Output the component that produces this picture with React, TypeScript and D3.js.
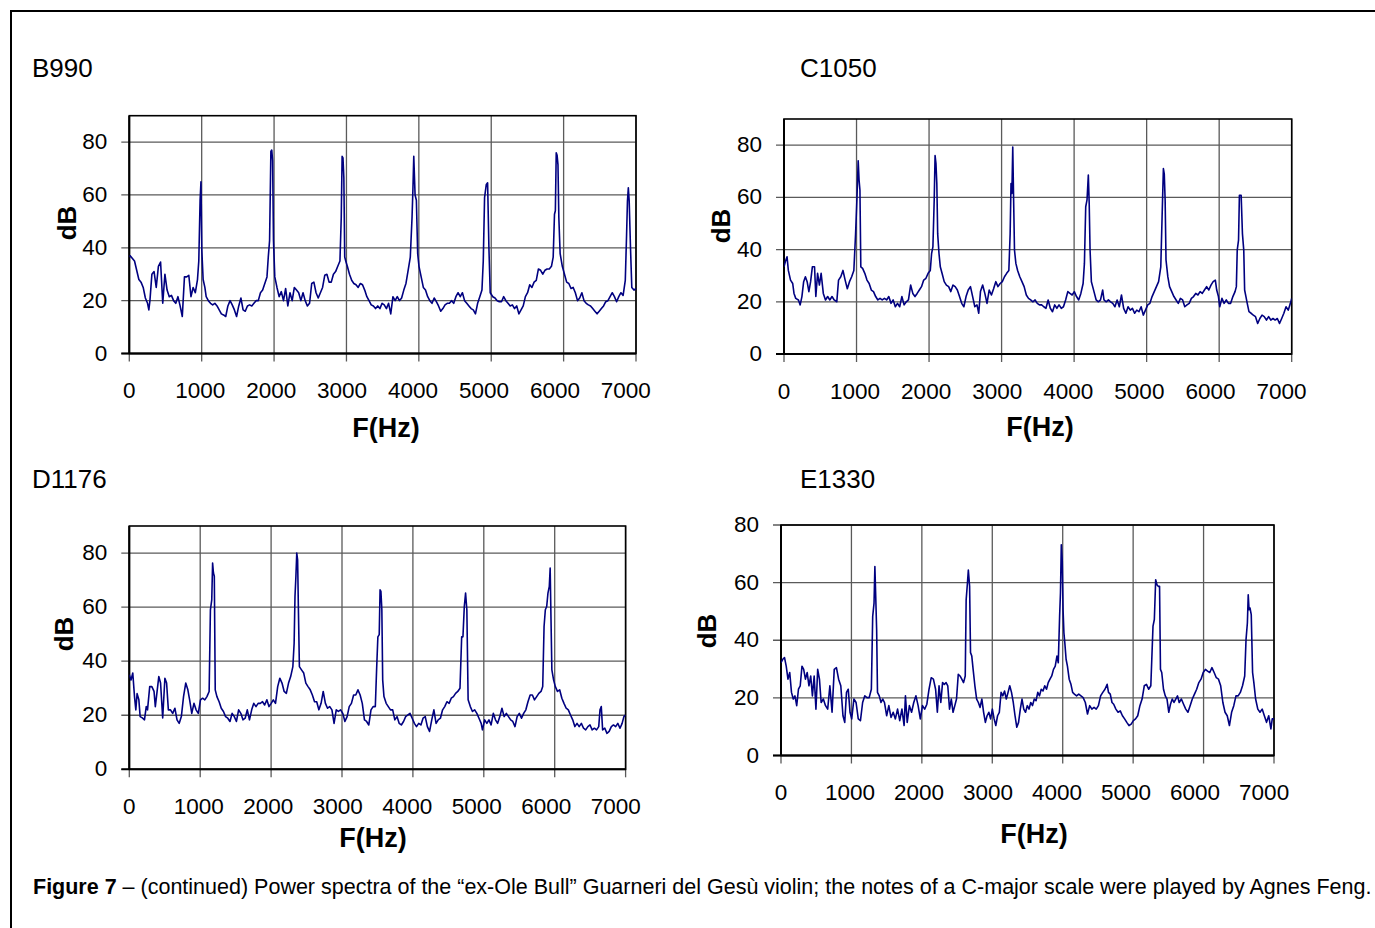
import React from "react";
import * as d3 from "d3";

type Pt = [number, number];

// ---- data (frequency Hz, level dB) ----
const B990: Pt[] = [[0,36.5],[12,37],[72,35],[132,28],[162,27],[192,25],[222,21],[252,19],[270,16.5],[285,20],[312,30],[342,31],[372,25],[402,33],[432,34.6],[462,19],[492,30],[522,24],[552,21.5],[582,22],[612,20],[642,19],[672,21.5],[702,18],[732,14],[762,29],[792,29],[822,29.6],[852,21.5],[882,25],[912,23],[942,28],[960,35],[978,58],[990,65],[1002,39],[1020,28],[1044,25],[1062,21.5],[1092,20],[1122,19],[1152,18.4],[1182,19],[1212,18],[1242,16.5],[1272,15],[1302,14.6],[1332,14],[1362,18],[1392,20],[1422,18.4],[1452,16.5],[1482,14],[1512,18],[1542,21],[1572,16.5],[1602,16],[1632,18],[1662,18.4],[1692,18],[1722,19],[1752,20],[1782,20],[1812,23],[1842,24],[1872,26.5],[1902,29],[1920,36.5],[1938,42.7],[1956,76.5],[1968,77],[1980,73],[1992,42.7],[2010,29],[2040,25],[2070,21.5],[2100,23.4],[2130,20],[2160,24.6],[2190,18],[2220,23],[2250,20],[2280,25],[2310,24],[2340,23],[2370,20],[2400,23],[2430,20],[2460,18],[2490,19],[2520,26.5],[2550,27],[2580,23],[2610,21],[2640,23],[2670,25],[2700,29.6],[2730,30],[2760,27],[2790,27],[2820,30],[2850,31],[2880,33],[2910,35],[2928,51.5],[2940,74.6],[2952,74],[2964,66.5],[2976,36.5],[2994,34.6],[3012,33],[3042,30],[3072,27.7],[3102,26.5],[3132,26],[3162,25],[3192,26.5],[3222,26],[3252,24],[3282,21.5],[3312,20],[3342,18.4],[3372,18],[3402,17],[3432,18],[3462,17],[3492,19],[3522,18.4],[3552,17],[3582,19],[3612,15],[3642,21.5],[3672,20],[3702,21.5],[3732,20],[3762,21],[3792,24],[3822,26.5],[3852,31.5],[3882,36.5],[3906,51.5],[3918,62],[3930,74.6],[3948,60],[3966,58],[3984,37.8],[4002,33],[4032,29],[4062,25],[4092,24],[4122,21.5],[4152,20],[4182,19],[4212,21],[4242,19.6],[4272,18],[4302,16],[4332,17],[4362,18.4],[4392,19],[4422,19],[4452,20],[4482,19],[4512,21.5],[4542,23],[4572,21.5],[4602,23],[4632,20],[4662,19],[4692,18],[4722,17],[4752,16.5],[4782,15],[4812,19],[4842,21.5],[4872,24],[4890,35],[4908,59],[4932,64],[4950,64.6],[4968,40],[4986,23],[5022,21.5],[5052,21],[5082,20],[5112,19.6],[5142,19.6],[5172,21.5],[5202,20],[5232,19],[5262,18],[5292,18.4],[5322,17],[5352,18],[5382,15],[5412,16.5],[5442,18],[5472,21.5],[5502,23],[5532,26],[5562,25],[5592,27],[5622,27.7],[5652,32],[5682,31.5],[5712,30],[5742,31.5],[5772,32],[5802,32],[5832,33],[5856,36.5],[5874,52.7],[5886,54],[5898,76],[5910,75],[5922,71.5],[5934,51.5],[5952,37.8],[5982,33],[6012,30],[6042,27],[6072,26.5],[6102,24.6],[6132,25],[6162,23],[6192,20],[6222,21],[6252,23],[6282,20],[6312,19],[6342,18.4],[6372,18],[6402,17],[6432,16],[6462,15],[6492,16],[6522,17],[6552,18],[6582,19.6],[6612,20],[6642,21.5],[6672,23],[6702,21.5],[6732,19.6],[6762,21.5],[6792,23],[6822,22],[6852,27.7],[6870,45],[6882,57.7],[6894,62.7],[6906,57.7],[6924,40],[6942,25],[6972,24],[7000,24.6]];

const C1050: Pt[] = [[0,33.4],[18,35.3],[42,37.2],[60,32],[90,28.3],[120,27],[138,23.2],[162,21.3],[199,20.7],[223,18.8],[247,22],[271,27.7],[295,29.6],[319,27.7],[343,23.9],[367,27.7],[391,33.4],[421,33.4],[439,22],[463,30.9],[488,26.4],[512,30.9],[542,23.2],[572,20.7],[602,22],[632,20.7],[662,22],[692,20.7],[728,20],[752,28.3],[783,29.6],[813,32],[843,28.3],[873,25],[903,27.7],[933,29.6],[963,32],[987,46],[1005,59],[1023,74],[1035,66.6],[1047,62.8],[1059,33.4],[1084,32.8],[1114,30.9],[1144,28.3],[1174,27],[1204,24.5],[1234,23.9],[1264,22],[1294,20.7],[1324,21.3],[1354,20.7],[1385,21.3],[1415,20.7],[1445,22],[1475,19.4],[1505,20.7],[1535,18.1],[1565,19.4],[1595,18.1],[1625,22],[1656,18.8],[1686,20],[1716,20.7],[1746,26.4],[1776,23.2],[1806,22],[1836,23.2],[1866,24.5],[1896,25.8],[1926,28.3],[1957,29],[1987,30.9],[2017,32],[2035,38.5],[2053,41],[2071,59],[2083,76],[2095,73],[2107,65.3],[2119,46],[2137,38.5],[2155,33.4],[2179,30.9],[2209,27.7],[2239,26.4],[2270,25.8],[2300,23.9],[2330,26.4],[2360,25.8],[2390,24.5],[2420,22],[2450,19.4],[2480,18.1],[2510,22],[2540,24.5],[2571,25.8],[2601,22],[2631,18.1],[2661,18.8],[2685,15.6],[2709,23.9],[2739,26.4],[2769,23.2],[2799,19.4],[2829,24.5],[2860,22.6],[2890,25],[2920,27.7],[2950,25.8],[2980,27],[3010,27.7],[3040,29.6],[3070,30.9],[3100,32],[3118,46],[3130,65.3],[3142,61.5],[3154,79.3],[3166,59],[3178,39.8],[3197,34.7],[3221,32],[3251,29.6],[3281,27.7],[3311,25.8],[3341,22.6],[3371,21.3],[3401,20.7],[3431,20],[3462,20.7],[3492,19.4],[3522,18.8],[3552,18.8],[3582,18.1],[3612,17.5],[3642,20.7],[3672,17.5],[3702,16.2],[3732,18.8],[3762,17.5],[3792,18.8],[3823,17.5],[3853,18.1],[3883,20.7],[3913,23.9],[3943,23.2],[3973,22.6],[4003,23.9],[4033,22],[4063,20.7],[4093,23.2],[4124,27],[4142,34.7],[4160,56.4],[4178,59],[4196,68.5],[4208,57.7],[4220,39.8],[4238,27.7],[4256,25.8],[4274,23.9],[4304,20.7],[4334,20],[4364,20.7],[4394,24.5],[4412,20.7],[4443,20],[4473,20.7],[4503,20],[4533,19.4],[4563,18.1],[4593,20.7],[4623,18.1],[4653,22.6],[4683,17.5],[4714,15.6],[4744,18.1],[4774,16.8],[4804,17.5],[4834,15.6],[4864,16.8],[4894,16.2],[4924,18.1],[4954,14.9],[4984,16.8],[5015,18.8],[5045,19.4],[5075,22],[5105,23.9],[5135,25.8],[5165,27.7],[5195,33.4],[5213,52.5],[5231,71],[5243,69],[5255,59],[5267,36],[5292,29.6],[5316,25.8],[5346,23.9],[5376,22],[5406,20.7],[5436,19.4],[5466,21.3],[5496,20.7],[5526,18.1],[5556,18.8],[5587,19.4],[5617,21.3],[5647,22],[5677,23.2],[5707,22.6],[5737,23.9],[5767,23.2],[5797,24.5],[5827,25.8],[5857,24.5],[5887,26.4],[5917,27.7],[5947,28.3],[5966,24.5],[5990,22],[6008,18.1],[6038,21.3],[6068,19.4],[6098,20.7],[6128,19.4],[6158,19.4],[6189,22],[6219,23.9],[6237,25.8],[6249,39.8],[6267,43.6],[6279,60.8],[6303,60.8],[6321,46],[6339,39.8],[6351,24.5],[6369,22],[6387,19.4],[6411,16.2],[6441,15.6],[6471,14.9],[6501,14.3],[6531,11.7],[6561,13.6],[6591,14.9],[6621,14.3],[6652,13],[6682,14.3],[6712,13],[6742,13.6],[6772,13],[6802,13.6],[6832,11.7],[6862,13.6],[6892,15.6],[6922,18.1],[6952,16.8],[6982,19.4],[7000,21.3]];

const D1176: Pt[] = [[0,35],[24,33],[49,35.6],[73,27],[92,22],[110,28],[135,25.7],[153,19.5],[184,19],[214,18.3],[239,23.2],[257,22],[288,30.6],[318,30.6],[349,28.8],[367,23.2],[392,28.8],[416,34.3],[441,31.9],[471,19],[502,33.7],[526,31.9],[551,22],[581,22],[612,20.7],[643,22.6],[673,18.3],[704,17],[734,19.5],[765,26.9],[796,31.9],[826,29.4],[851,25.7],[881,20.7],[912,24.4],[942,22],[973,20.7],[1004,25.7],[1034,26.3],[1065,25.7],[1095,26.9],[1126,28.8],[1144,59],[1163,62.7],[1175,76.3],[1187,72.6],[1199,71.4],[1212,29.4],[1236,26.9],[1267,25],[1297,22.6],[1328,21.4],[1358,19.5],[1389,18.9],[1420,17.7],[1450,20.7],[1481,19.5],[1511,17.7],[1542,22],[1573,20.7],[1603,18.3],[1634,18.9],[1664,22],[1695,18.3],[1726,22],[1756,24.4],[1787,23.2],[1817,24.4],[1848,24.4],[1879,25],[1909,23.8],[1940,25.7],[1970,23.2],[2001,24.4],[2031,25.7],[2062,24.4],[2093,30.6],[2123,33.7],[2154,31.9],[2184,28.8],[2215,28.1],[2246,31.9],[2276,34.3],[2307,38],[2325,46.7],[2337,64],[2350,71.4],[2362,80],[2374,77.5],[2386,57.8],[2399,38],[2429,36.8],[2460,35.6],[2490,31.9],[2521,30.6],[2552,29.4],[2582,27.5],[2613,25],[2643,25],[2674,22],[2705,24.4],[2735,28.8],[2766,24.4],[2796,22.6],[2827,23.2],[2858,22],[2888,17],[2919,22],[2949,21.4],[2980,22],[3011,20.7],[3041,17.7],[3072,19.5],[3102,23.2],[3133,24.4],[3164,27.5],[3194,27.5],[3225,29.4],[3256,27.5],[3286,24.4],[3317,18.3],[3347,17.7],[3378,16.4],[3409,22],[3439,23.2],[3470,23.2],[3488,36.8],[3506,49],[3525,49.8],[3537,66.4],[3549,65.8],[3562,59],[3574,33],[3592,26.9],[3623,24.4],[3653,23.2],[3684,22],[3715,22],[3745,18.3],[3776,19.5],[3806,17],[3837,16.4],[3868,17.7],[3898,19.5],[3929,20.1],[3959,20.7],[3990,18.9],[4021,17],[4051,15.8],[4082,17],[4113,16.4],[4143,18.9],[4174,19.5],[4204,15.8],[4235,14],[4266,18.3],[4296,22],[4327,17],[4357,18.3],[4388,18.9],[4419,22],[4449,23.2],[4480,25],[4511,24.4],[4541,26.3],[4572,26.9],[4602,28.1],[4633,28.8],[4664,30],[4688,49],[4706,49],[4725,60.2],[4743,65.2],[4761,59],[4779,25.7],[4810,23.2],[4840,21.4],[4871,22],[4902,20.7],[4932,18.9],[4963,17],[4981,14.6],[5012,18.3],[5043,17],[5073,18.3],[5103,16.4],[5134,20.7],[5165,18.3],[5195,17],[5226,19.5],[5256,22.6],[5287,19.5],[5318,20.7],[5348,19.5],[5379,18.3],[5409,17.7],[5440,15.8],[5470,19.5],[5501,20.7],[5532,18.9],[5562,20.7],[5593,22],[5623,25],[5654,27.5],[5685,27.5],[5715,25.7],[5746,26.9],[5776,28.1],[5807,28.8],[5831,30.6],[5850,52.8],[5868,59],[5887,60.2],[5905,65.2],[5924,67.7],[5936,74.4],[5948,55.3],[5960,36.8],[5985,33],[6009,30.6],[6039,28.8],[6070,29.4],[6101,26.3],[6131,24.4],[6162,22.6],[6192,22],[6223,20.1],[6254,18.3],[6284,15.8],[6315,17],[6345,15.8],[6376,17],[6407,15.2],[6437,14.6],[6468,15.8],[6498,16.4],[6529,14.6],[6560,15.2],[6590,14.6],[6621,15.8],[6639,22],[6657,23.2],[6676,14.6],[6707,15.2],[6737,13.3],[6768,14],[6799,15.8],[6829,16.4],[6860,15.8],[6890,17],[6921,15.2],[6951,17],[6976,19.5],[7000,20.1]];

const E1330: Pt[] = [[0,32.2],[25,33.4],[50,34],[74,31],[99,26.5],[124,28.8],[149,21.9],[174,19.6],[198,20.7],[223,17.3],[248,23],[273,24.2],[298,31],[322,29.9],[347,26.5],[372,28.8],[397,24.2],[422,27.6],[446,20.7],[471,27.6],[496,16.1],[521,29.9],[546,26.5],[570,18.4],[601,19.6],[632,17.3],[663,16.1],[694,24.2],[725,15],[756,29.9],[787,30.5],[818,26.5],[849,24.2],[880,13.8],[905,11.5],[930,21.9],[955,23],[980,15],[1004,12.7],[1035,19.6],[1066,18.4],[1097,12.7],[1128,12.1],[1159,18.4],[1190,20.7],[1221,20.1],[1252,20.1],[1283,23],[1302,48.3],[1321,52.9],[1333,65.6],[1345,55.2],[1358,43.7],[1370,21.9],[1395,20.7],[1420,18.4],[1445,19.6],[1469,18.4],[1500,13.8],[1531,17.3],[1562,13.2],[1593,15],[1624,12.7],[1655,16.1],[1686,12.1],[1717,16.1],[1748,10.4],[1767,20.7],[1792,11.5],[1823,17.3],[1854,15],[1885,18.4],[1916,20.7],[1947,17.3],[1978,12.7],[2009,17.3],[2040,16.1],[2071,17.8],[2102,23],[2133,27],[2164,26.5],[2195,23],[2220,15],[2244,24.2],[2269,18.4],[2294,25.3],[2319,24.7],[2344,25.3],[2368,24.2],[2393,16.1],[2418,19.6],[2443,15],[2468,17.3],[2492,19.6],[2517,28.2],[2542,27.6],[2567,26.5],[2592,25.3],[2616,27.6],[2629,54.1],[2647,59.8],[2660,64.4],[2678,58.7],[2691,35.7],[2709,34.5],[2728,29.9],[2753,24.2],[2778,19.6],[2802,18.4],[2827,16.7],[2852,19.6],[2877,15],[2902,11.5],[2926,13.8],[2951,15],[2976,12.7],[3001,16.1],[3026,12.7],[3050,10.4],[3075,13.8],[3100,15],[3125,21.9],[3150,20.7],[3174,22.4],[3199,19.6],[3224,21.9],[3248,24.2],[3273,21.9],[3298,18.4],[3323,13.8],[3348,9.8],[3373,11.5],[3398,16.1],[3422,19.6],[3447,16.1],[3472,15],[3497,17.3],[3522,16.1],[3546,18.4],[3571,17.3],[3596,19.6],[3621,19],[3646,21.9],[3670,20.7],[3695,23],[3720,22.4],[3745,24.2],[3770,23],[3794,25.3],[3819,26.5],[3844,27.6],[3869,29.9],[3894,31],[3918,34.5],[3937,32.2],[3956,48.3],[3968,56.4],[3980,73.1],[3993,67.9],[4005,50.6],[4017,42.6],[4030,39.1],[4048,33.4],[4067,31],[4092,26.5],[4117,24.7],[4141,21.9],[4166,21.3],[4197,20.7],[4228,21.3],[4259,20.7],[4290,20.1],[4321,18.4],[4352,14.4],[4383,17.3],[4414,16.1],[4445,16.7],[4476,16.1],[4507,17.3],[4538,20.7],[4569,21.9],[4600,23],[4631,24.7],[4650,21.9],[4675,21.3],[4700,18.4],[4724,17.8],[4755,16.1],[4786,15],[4817,15.5],[4848,13.8],[4879,12.7],[4910,11.5],[4941,10.4],[4972,10.9],[5003,12.1],[5034,12.7],[5065,13.8],[5096,17.3],[5127,19.6],[5158,24.2],[5189,24.7],[5220,23],[5251,24.2],[5282,44.9],[5301,47.2],[5320,61],[5338,59.3],[5357,58.7],[5375,58.7],[5388,29.9],[5406,28.8],[5431,23],[5456,20.7],[5481,19.6],[5506,15],[5530,17.8],[5555,19.6],[5580,18.4],[5605,19.6],[5630,20.7],[5654,18.4],[5685,19.6],[5716,17.8],[5747,16.1],[5778,15],[5809,17.3],[5840,19.6],[5871,21.3],[5902,23],[5933,25.3],[5964,26.5],[5995,28.8],[6026,29.9],[6057,29.3],[6088,28.8],[6119,30.5],[6150,28.8],[6181,27],[6212,26.5],[6243,24.2],[6274,18.4],[6305,15],[6336,13.8],[6367,10.4],[6398,15],[6429,17.3],[6460,20.7],[6491,20.7],[6522,21.9],[6553,24.2],[6584,27.6],[6603,40.3],[6622,46],[6634,55.8],[6646,50.6],[6659,51.2],[6677,48.9],[6696,28.8],[6714,25.3],[6739,19.6],[6770,16.1],[6801,15],[6832,16.1],[6863,13.8],[6894,11.5],[6925,13.8],[6956,9.2],[6975,12.7],[7000,12.7]];

const X_TICKS = [0, 1000, 2000, 3000, 4000, 5000, 6000, 7000];
const Y_TICKS = [0, 20, 40, 60, 80];
const TITLES = ["B990", "C1050", "D1176", "E1330"];
const Y_MAX = [90, 90, 90, 80];
const SERIES = [B990, C1050, D1176, E1330];
const CAPTION_BOLD = "Figure 7";
const CAPTION_REST =
  " – (continued) Power spectra of the “ex-Ole Bull” Guarneri del Gesù violin; the notes of a C-major scale were played by Agnes Feng.";

// ---- layout (pixel positions of each panel) ----
const LAYOUT = [
  { left: 129.3, right: 636, top: 115.7, bottom: 353.5, tx: 32, ty: 77.3, fx: 386, fy: 437, dbx: 66, dby: 223 },
  { left: 784, right: 1291.7, top: 119, bottom: 354, tx: 800, ty: 77.3, fx: 1040, fy: 436, dbx: 720, dby: 226 },
  { left: 129.3, right: 625.6, top: 526, bottom: 769.3, tx: 32, ty: 488, fx: 373, fy: 847, dbx: 63, dby: 634 },
  { left: 781, right: 1274, top: 525, bottom: 755.5, tx: 800, ty: 488, fx: 1034, fy: 843, dbx: 706, dby: 631 },
];

const FONT = "'Liberation Sans', Arial, Helvetica, sans-serif";
const GRID = "#5a5a5a";
const LINE = "#000080";

function Panel({ idx }: { idx: number }) {
  const L = LAYOUT[idx];
  const data = SERIES[idx];
  const x = d3.scaleLinear().domain([0, 7000]).range([L.left, L.right]);
  const y = d3.scaleLinear().domain([0, Y_MAX[idx]]).range([L.bottom, L.top]);
  const line = d3
    .line<Pt>()
    .x((d) => x(d[0]))
    .y((d) => y(d[1]));
  const clipId = `clip-${idx}`;
  const labelX = (v: number) => L.left + (x(v) - L.left) * 0.98;
  return (
    <g>
      <defs>
        <clipPath id={clipId}>
          <rect x={L.left} y={L.top} width={L.right - L.left} height={L.bottom - L.top} />
        </clipPath>
      </defs>
      <text x={L.tx} y={L.ty} fontSize={26} fontFamily={FONT} fill="#000">
        {TITLES[idx]}
      </text>
      {Y_TICKS.map((t) => (
        <line key={"h" + t} x1={L.left - 8} x2={L.right} y1={y(t)} y2={y(t)} stroke={GRID} strokeWidth={1.3} />
      ))}
      {X_TICKS.map((t) => (
        <line key={"v" + t} x1={x(t)} x2={x(t)} y1={L.top} y2={L.bottom + 8} stroke={GRID} strokeWidth={1.3} />
      ))}
      <rect
        x={L.left}
        y={L.top}
        width={L.right - L.left}
        height={L.bottom - L.top}
        fill="none"
        stroke="#000"
        strokeWidth={1.6}
      />
      <line x1={L.left - 8} x2={L.right} y1={L.bottom} y2={L.bottom} stroke="#000" strokeWidth={2} />
      <line x1={L.left} x2={L.left} y1={L.top} y2={L.bottom} stroke="#000" strokeWidth={2} />
      <path
        d={line(data) || ""}
        fill="none"
        stroke={LINE}
        strokeWidth={1.6}
        strokeLinejoin="round"
        clipPath={`url(#${clipId})`}
      />
      {Y_TICKS.map((t) => (
        <text
          key={"yl" + t}
          x={L.left - 22}
          y={y(t) + 7}
          textAnchor="end"
          fontSize={22.5}
          fontFamily={FONT}
          fill="#000"
        >
          {t}
        </text>
      ))}
      {X_TICKS.map((t) => (
        <text
          key={"xl" + t}
          x={labelX(t)}
          y={L.bottom + 44.5}
          textAnchor="middle"
          fontSize={22.5}
          fontFamily={FONT}
          fill="#000"
        >
          {t}
        </text>
      ))}
      <text x={L.fx} y={L.fy} textAnchor="middle" fontSize={27} fontWeight="bold" fontFamily={FONT} fill="#000">
        F(Hz)
      </text>
      <text
        transform={`translate(${L.dbx + 9.5},${L.dby}) rotate(-90)`}
        textAnchor="middle"
        fontSize={26}
        fontWeight="bold"
        fontFamily={FONT}
        fill="#000"
      >
        dB
      </text>
    </g>
  );
}

export default function App() {
  return (
    <svg
      width={1375}
      height={928}
      style={{ position: "absolute", left: 0, top: 0, background: "#fff" }}
      xmlns="http://www.w3.org/2000/svg"
    >
      <rect x={0} y={0} width={1375} height={928} fill="#fff" />
      <rect x={11} y={11} width={1400} height={1000} fill="none" stroke="#000" strokeWidth={2} />
      {TITLES.map((_, i) => (
        <Panel key={i} idx={i} />
      ))}
      <text x={33} y={894} fontSize={21.5} fontFamily={FONT} fill="#000">
        <tspan fontWeight="bold">{CAPTION_BOLD}</tspan>
        <tspan>{CAPTION_REST}</tspan>
      </text>
    </svg>
  );
}
